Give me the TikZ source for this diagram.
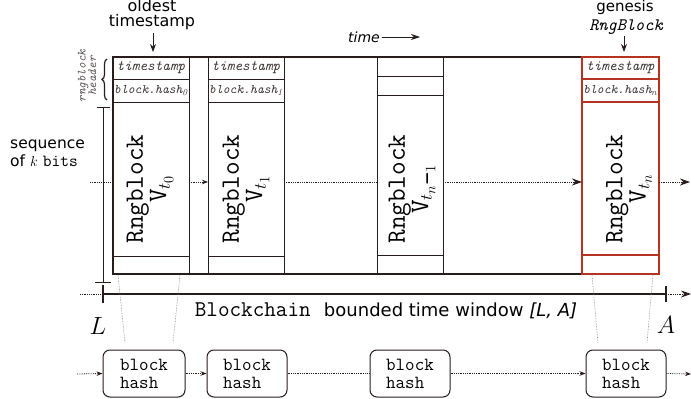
\documentclass[tikz,border=0pt]{standalone}
\usepackage{fontspec}
\newfontfamily\sansf{DejaVu Sans}
\newcommand\monof{\ttfamily}
\usetikzlibrary{arrows.meta,decorations.pathreplacing}
\definecolor{dk}{RGB}{40,28,28}
\definecolor{rd}{RGB}{181,52,31}
\newcommand\tsf{\monof\itshape\fontsize{14.5}{14}\selectfont\color{dk!90}}
\newcommand\hsf{\monof\itshape\fontsize{13}{14}\selectfont\color{dk!90}}
\newcommand\rngf{\monof\fontsize{26.5}{18}\selectfont}
\begin{document}
\begin{tikzpicture}[x=1pt,y=-1pt,
  cell/.style={draw=dk, line width=1pt, inner sep=0pt, outer sep=0pt},
  rcell/.style={draw=rd, line width=1.2pt, inner sep=0pt, outer sep=0pt},
  rlab/.style={rotate=90, align=center, font=\rngf, inner sep=0pt},
  dotline/.style={densely dotted, line width=0.8pt, dk},
  dotarrow/.style={dotline, -{Stealth[length=6pt,width=4.5pt]}},
  dotarrowbig/.style={dotline, -{Stealth[length=10pt,width=7pt]}},
  guide/.style={densely dotted, line width=0.6pt, gray},
  hbox/.style={draw=dk, line width=1pt, rounded corners=7pt, minimum height=47pt,
    align=left, font=\monof\fontsize{18.5}{18}\selectfont, inner sep=0pt}]
\useasboundingbox (0,0) rectangle (691,399);

% frame
\node[draw=dk, line width=1.4pt, minimum width=546pt, minimum height=217pt, inner sep=0pt] (frame) at (386,165.5) {};

% block 0
\node[cell, minimum width=76pt, minimum height=22pt] (b0ts) at (151,68) {\tsf timestamp};
\node[cell, minimum width=76pt, minimum height=23pt] (b0hs) at (151,90.5) {\hsf block.hash$_{\mathit{0}}$};
\node[cell, minimum width=76pt, minimum height=154pt] (b0bd) at (151,179) {};
\node[cell, minimum width=76pt, minimum height=18pt] (b0bt) at (151,265) {};
\node[rlab] (r0) at (150,189) {Rngblock\\V$_{t_0}$};

% block 1
\node[cell, minimum width=76pt, minimum height=22pt] (b1ts) at (246,68) {\tsf timestamp};
\node[cell, minimum width=76pt, minimum height=23pt] (b1hs) at (246,90.5) {\hsf block.hash$_{\mathit{1}}$};
\node[cell, minimum width=76pt, minimum height=154pt] (b1bd) at (246,179) {};
\node[cell, minimum width=76pt, minimum height=18pt] (b1bt) at (246,265) {};
\node[rlab] (r1) at (246,189) {Rngblock\\V$_{t_1}$};

% block n-1
\node[cell, minimum width=66pt, minimum height=19pt] (b2ts) at (410,66.5) {};
\node[cell, minimum width=66pt, minimum height=19pt] (b2hs) at (410,85.5) {};
\node[cell, minimum width=66pt, minimum height=160pt] (b2bd) at (410,175) {};
\node[cell, minimum width=66pt, minimum height=19pt] (b2bt) at (410,264.5) {};
\node[rlab] (r2) at (412,189) {Rngblock\\V$_{t_{n\mbox{-}1}}$};

% block n (genesis)
\node[rcell, minimum width=77pt, minimum height=22pt] (b3ts) at (620.5,68) {\tsf timestamp};
\node[rcell, minimum width=77pt, minimum height=23pt] (b3hs) at (620.5,90.5) {\hsf block.hash$_{n}$};
\node[rcell, minimum width=77pt, minimum height=153pt] (b3bd) at (620.5,178.5) {};
\node[rcell, minimum width=77pt, minimum height=19pt] (b3bt) at (620.5,264.5) {};
\node[rlab] (r3) at (629,189) {Rngblock\\V$_{t_n}$};

% top labels
\node[font=\sansf\fontsize{16}{15}\selectfont, align=center, inner sep=0pt] (old) at (152,15) {oldest\\timestamp};
\draw[dk, line width=1pt, -{Stealth[length=8pt,width=6pt]}] ([yshift=-3pt]old.south -| 153,0) -- (153,52);
\node[font=\sansf\fontsize{15}{17}\selectfont, inner sep=0pt, anchor=base] (gen1) at (625,11) {genesis};
\node[font=\monof\itshape\fontsize{17.5}{17}\selectfont, inner sep=0pt, anchor=base] (gen2) at (626,30) {RngBlock};
\coordinate (gentip) at (624,52);
\draw[dk, line width=1pt, -{Stealth[length=8pt,width=6pt]}] ([yshift=-2pt]gen2.south -| gentip) -- (gentip);
\node[font=\sansf\itshape\fontsize{14}{14}\selectfont, inner sep=0pt] (time) at (364,37) {time};
\coordinate (timeend) at (420,37);
\draw[dk, line width=0.9pt, -{Stealth[length=9pt,width=6pt]}] ([xshift=2pt]time.east) -- (timeend);

% header brace
\draw[dk, decorate, decoration={brace, amplitude=5pt}, line width=1.2pt] (107,100) -- (107,59);
\node[rotate=90, align=center, font=\monof\itshape\fontsize{12.5}{10.5}\selectfont, text=dk!75, inner sep=0pt] (hdr) at (87,76) {rngblock\\header};

% sequence bracket
\coordinate (sq0) at (103,107);
\coordinate (sq1) at (103,282);
\draw[dk, line width=0.8pt] (sq0) -- (sq1);
\draw[dk, line width=0.8pt] ([xshift=-6pt]sq0) -- ([xshift=7pt]sq0);
\draw[dk, line width=0.8pt] ([xshift=-8pt]sq1) -- ([xshift=8pt]sq1);
\node[align=left, font=\sansf\fontsize{15.5}{18}\selectfont, inner sep=0pt, anchor=west] (seq) at (10,153) {sequence\\of $k$ {\monof\fontsize{17}{18}\selectfont bits}};

% sequence connectors
\coordinate (s0) at (90,182);
\coordinate (s1) at (690,182);
\draw[dotline] (s0) -- (s0 -| b0bd.west);
\draw[dotarrow] (b0bd.east |- s0) -- (b1bd.west |- s0);
\draw[dotline] (b1bd.east |- s0) -- (b2bd.west |- s0);
\draw[dotarrowbig] (b2bd.east |- s0) -- (b3bd.west |- s0);
\draw[dotarrowbig] (b3bd.east |- s0) -- (s1);

% timeline
\coordinate (tl0) at (80,294);
\coordinate (L) at (103,294);
\coordinate (A) at (666,294);
\coordinate (tl1) at (691,294);
\draw[dotline] (tl0) -- (L);
\draw[dk, line width=1.2pt] (L) -- (A);
\draw[dotarrowbig] (A) -- (tl1);
\draw[dk, line width=2.6pt] ([yshift=9pt]L) -- ([yshift=-9pt]L);
\draw[dk, line width=2.6pt] ([yshift=8pt]A) -- ([yshift=-8pt]A);
\node[font=\fontsize{23}{23}\selectfont, inner sep=0pt] (Llab) at (98,326) {$L$};
\node[font=\fontsize{23}{23}\selectfont, inner sep=0pt] (Alab) at (666,325) {$A$};
\node[inner sep=0pt] (bc) at (386,311) {{\monof\fontsize{22.5}{22}\selectfont Blockchain\ }\,{\sansf\fontsize{18}{18}\selectfont bounded time window \itshape[L, A]}};

% hash boxes
\node[hbox, minimum width=82pt] (h0) at (144,373.5) {block\\hash};
\node[hbox, minimum width=80pt] (h1) at (247,373.5) {block\\hash};
\node[hbox, minimum width=80pt] (h2) at (410,373.5) {block\\hash};
\node[hbox, minimum width=80pt] (h3) at (626,373.5) {block\\hash};
\coordinate (hin) at (77,374);
\coordinate (hout) at (691,374);
\draw[dotarrow] (hin) -- (h0.west);
\draw[dotarrow] (h0.east) -- (h1.west);
\draw[dotline] (h1.east) -- (h2.west);
\draw[dotarrow] (h2.east) -- (h3.west);
\draw[dotarrow] (h3.east) -- (hout);

% guides
\coordinate (g1a) at (118,275); \coordinate (g1b) at (125,343);
\coordinate (g2a) at (180,275); \coordinate (g2b) at (173,343);
\coordinate (g3a) at (592,275); \coordinate (g3b) at (598,343);
\coordinate (g4a) at (653,275); \coordinate (g4b) at (647,343);
\draw[guide] (g1a) -- (g1b);
\draw[guide] (g2a) -- (g2b);
\draw[guide] (g3a) -- (g3b);
\draw[guide] (g4a) -- (g4b);
\end{tikzpicture}
\end{document}
